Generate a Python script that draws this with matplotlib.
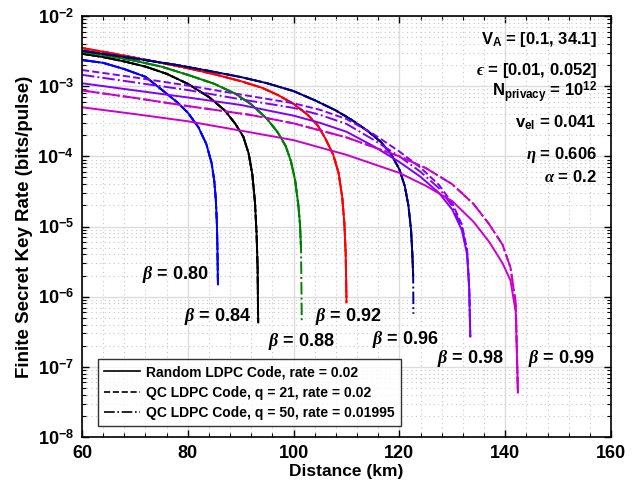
"""
Finite secret key rate vs distance
for different reconciliation efficiencies (beta)
"""
import matplotlib
matplotlib.use("Agg")
from matplotlib import pyplot as plt
from matplotlib.lines import Line2D
from matplotlib.ticker import LogLocator, MultipleLocator, NullFormatter, FuncFormatter
import numpy as np

plt.rcParams['font.family'] = ['Liberation Sans', 'DejaVu Sans']
plt.rcParams['font.weight'] = 'bold'
plt.rcParams['mathtext.fontset'] = 'custom'
plt.rcParams['mathtext.rm'] = 'Liberation Sans:bold'
plt.rcParams['mathtext.bf'] = 'Liberation Sans:bold'
plt.rcParams['mathtext.it'] = 'Liberation Serif:italic'

# beta = 0.80 (all three codes overlap)
d_080 = [60, 64, 68, 72, 75, 78, 80, 82, 83.5, 84.5, 85.0, 85.3, 85.5, 85.6, 85.7]
k_080 = [2.36e-3, 2.15e-3, 1.75e-3, 1.36e-3, 9.0e-4, 5.9e-4, 4.2e-4, 2.6e-4,
         1.5e-4, 8e-5, 4.5e-5, 2.4e-5, 1.1e-5, 5e-6, 1.5e-6]

# beta = 0.84
d_084 = [60, 64, 68, 72, 76, 80, 84, 87, 89, 90.5, 91.5, 92.2, 92.7, 93.0, 93.2, 93.3]
k_084 = [2.9e-3, 2.6e-3, 2.25e-3, 1.9e-3, 1.5e-3, 1.08e-3, 7e-4, 4.5e-4, 2.9e-4,
         1.9e-4, 1.1e-4, 5.5e-5, 2.2e-5, 8e-6, 2.5e-6, 4.3e-7]

# beta = 0.88 (last point only reached by the q = 50 code)
d_088 = [60, 65, 70, 75, 80, 85, 89, 92, 95, 97, 98.5, 99.5, 100.3, 100.9, 101.2,
         101.4, 101.55]
k_088 = [3.1e-3, 2.7e-3, 2.3e-3, 1.9e-3, 1.45e-3, 1.08e-3, 7.8e-4, 5.5e-4, 3.4e-4,
         2.2e-4, 1.4e-4, 8.5e-5, 4.5e-5, 2e-5, 1.1e-5, 5e-6, 4.3e-7]

# beta = 0.92
d_092 = [60, 65, 70, 75, 80, 85, 90, 94, 97, 100, 102.5, 104.5, 106, 107.5, 108.5,
         109.2, 109.6, 109.85, 110.0]
k_092 = [3.5e-3, 3.0e-3, 2.55e-3, 2.15e-3, 1.8e-3, 1.48e-3, 1.18e-3, 9.5e-4, 7.5e-4,
         5.6e-4, 4.0e-4, 2.8e-4, 1.8e-4, 1.05e-4, 5.8e-5, 2.6e-5, 1.1e-5, 4e-6, 8.3e-7]

# beta = 0.96 (last point only reached by the q = 50 code)
d_096 = [60, 66, 72, 78, 84, 90, 95, 100, 104, 108, 111, 114, 116.5, 118.5, 120,
         121, 121.7, 122.2, 122.45, 122.6, 122.65]
k_096 = [3.2e-3, 2.75e-3, 2.35e-3, 2.0e-3, 1.65e-3, 1.35e-3, 1.1e-3, 8.5e-4, 6.3e-4,
         4.5e-4, 3.3e-4, 2.3e-4, 1.6e-4, 1.05e-4, 6.5e-5, 3.8e-5, 2e-5, 9e-6, 4e-6,
         2e-6, 5.7e-7]

# beta = 0.98, the three codes split apart
d_098 = [60, 70, 80, 90, 100, 105, 110, 115, 120, 124, 127.5, 130, 131.8, 132.8,
         133.2, 133.4]
k_098_rand = [1.1e-3, 8.7e-4, 6.9e-4, 5.4e-4, 3.8e-4, 3.0e-4, 2.24e-4, 1.41e-4,
              8.3e-5, 5.1e-5, 3.0e-5, 1.74e-5, 8.9e-6, 4.0e-6, 1.26e-6, 2.7e-7]
k_098_q21 = [1.7e-3, 1.33e-3, 1.02e-3, 7.6e-4, 5.7e-4, 4.6e-4, 3.4e-4, 2.1e-4,
             1.17e-4, 6.9e-5, 3.9e-5, 2.14e-5, 1.07e-5, 4.7e-6, 1.4e-6, 2.7e-7]
k_098_q50 = [1.45e-3, 1.13e-3, 8.8e-4, 6.5e-4, 4.9e-4, 3.9e-4, 2.9e-4, 1.74e-4,
             1.0e-4, 6.0e-5, 3.5e-5, 1.95e-5, 9.8e-6, 4.3e-6, 1.35e-6, 2.7e-7]

# beta = 0.99
d_099 = [60, 70, 80, 91.8, 100, 110, 120, 125, 130, 134, 137, 139.5, 141, 142, 142.4]
k_099_rand = [5e-4, 4.0e-4, 3.16e-4, 2.2e-4, 1.7e-4, 1.05e-4, 5.8e-5, 3.8e-5, 2.3e-5,
              1.17e-5, 6e-6, 3.0e-6, 1.7e-6, 6e-7, 4.3e-8]
k_099_q21 = [8.7e-4, 6.8e-4, 5.2e-4, 3.9e-4, 2.95e-4, 1.86e-4, 1.0e-4, 6.8e-5, 4.0e-5,
             2.1e-5, 1.07e-5, 5.5e-6, 2.6e-6, 8e-7, 4.3e-8]

colors = {'0.80': '#0000ff', '0.84': '#000000', '0.88': '#008000', '0.92': '#ff0000',
          '0.96': '#000080', '0.98': '#8000ff', '0.99': '#cc00cc'}

# (beta, linestyle, distance, rate)
curves = [
    ('0.80', '-.', d_080, k_080), ('0.80', '--', d_080, k_080), ('0.80', '-', d_080, k_080),
    ('0.84', '-.', d_084, k_084), ('0.84', '--', d_084, k_084), ('0.84', '-', d_084, k_084),
    ('0.88', '-.', d_088, k_088), ('0.88', '--', d_088[:-1], k_088[:-1]),
    ('0.88', '-', d_088[:-1], k_088[:-1]),
    ('0.92', '-.', d_092, k_092), ('0.92', '--', d_092, k_092), ('0.92', '-', d_092, k_092),
    ('0.96', '-.', d_096, k_096), ('0.96', '--', d_096[:-1], k_096[:-1]),
    ('0.96', '-', d_096[:-1], k_096[:-1]),
    ('0.98', '-', d_098, k_098_rand), ('0.98', '--', d_098, k_098_q21),
    ('0.98', '-.', d_098, k_098_q50),
    ('0.99', '-', d_099, k_099_rand), ('0.99', '--', d_099, k_099_q21),
    ('0.99', '-.', d_099, k_099_q21),
]

# label positions (axes fraction, left / baseline)
beta_labels = [('0.80', 0.113, 0.375), ('0.84', 0.193, 0.276), ('0.88', 0.352, 0.215),
               ('0.92', 0.441, 0.276), ('0.96', 0.548, 0.222), ('0.98', 0.671, 0.176),
               ('0.99', 0.843, 0.176)]

params = [(r'V$_{\mathrm{A}}$ = [0.1, 34.1]', 0.934),
          (r'$ϵ$ = [0.01, 0.052]', 0.860),
          (r'N$_{\mathrm{privacy}}$ = 10$^{\mathrm{12}}$', 0.808),
          (r'v$_{\mathrm{el}}$ = 0.041', 0.736),
          (r'$\eta$ = 0.606', 0.660),
          (r'$\alpha$ = 0.2', 0.606)]

fig = plt.figure(figsize=(6.39, 4.91), dpi=100)
ax = fig.add_axes([82 / 639, 54 / 491, 529 / 639, 421 / 491])

for beta, ls, d, k in curves:
    ax.plot(d, k, color=colors[beta], linestyle=ls, linewidth=1.4)

ax.set_yscale('log')
ax.set_xlim(60, 160)
ax.set_ylim(1e-8, 1e-2)

ax.xaxis.set_major_locator(MultipleLocator(20))
ax.xaxis.set_minor_locator(MultipleLocator(4))
ax.yaxis.set_major_locator(LogLocator(base=10, numticks=20))
ax.yaxis.set_minor_locator(LogLocator(base=10, subs=np.arange(2, 10), numticks=20))
ax.yaxis.set_minor_formatter(NullFormatter())
ax.yaxis.set_major_formatter(FuncFormatter(
    lambda v, p: r'10$^{\mathrm{%d}}$' % int(round(np.log10(v)))))

ax.grid(True, which='major', color='#dcdcdc', linewidth=1.0, linestyle='-')
ax.grid(True, which='minor', color='#c8c8c8', linewidth=0.8, linestyle=(0, (1, 3)))
ax.set_axisbelow(True)

ax.tick_params(which='both', direction='in', top=True, right=True, labelsize=13)
ax.tick_params(which='major', length=5, width=1, pad=6)
ax.tick_params(which='minor', length=3, width=0.8)
for s in ax.spines.values():
    s.set_linewidth(1.2)

ax.set_xlabel('Distance (km)', fontsize=12.5, fontweight='bold', labelpad=1)
ax.set_ylabel('Finite Secret Key Rate (bits/pulse)', fontsize=13.5, fontweight='bold',
              labelpad=3)

for beta, x, y in beta_labels:
    ax.text(x, y, r'$\beta$ = ' + beta, transform=ax.transAxes, fontsize=13,
            fontweight='bold', ha='left', va='baseline')

for txt, y in params:
    ax.text(0.9735, y, txt, transform=ax.transAxes, fontsize=12, fontweight='bold',
            ha='right', va='baseline')

handles = [Line2D([], [], color='k', linestyle='-', linewidth=1.2),
           Line2D([], [], color='k', linestyle='--', linewidth=1.2),
           Line2D([], [], color='k', linestyle='-.', linewidth=1.2)]
labels = ['Random LDPC Code, rate = 0.02', 'QC LDPC Code, q = 21, rate = 0.02',
          'QC LDPC Code, q = 50, rate = 0.01995']
leg = ax.legend(handles, labels, loc='lower left', bbox_to_anchor=(0.03, 0.026),
                prop={'size': 10, 'weight': 'bold'}, frameon=True, fancybox=False,
                borderaxespad=0, handlelength=2.6, labelspacing=0.45,
                borderpad=0.45, handletextpad=0.4)
leg.get_frame().set_edgecolor('black')
leg.get_frame().set_linewidth(1.0)

fig.savefig('out.png', dpi=100)
